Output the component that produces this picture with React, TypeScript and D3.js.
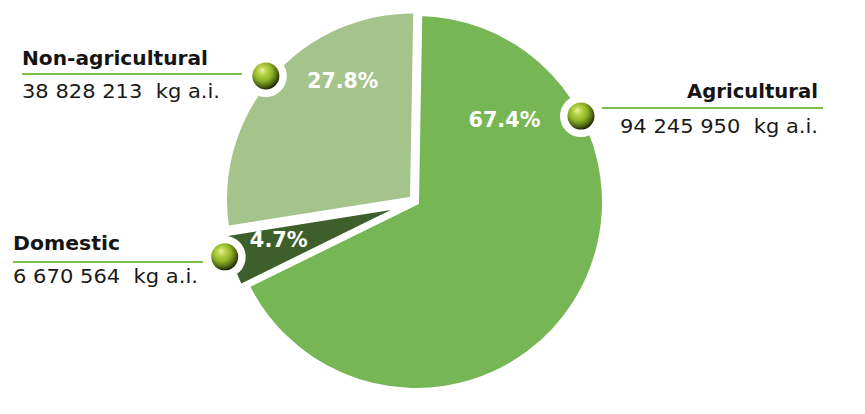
import * as d3 from "d3";

// Pesticide use by sector (kg active ingredient)
const sectors = ["Agricultural", "Domestic", "Non-agricultural"];
const amounts = [94245950, 6670564, 38828213];
const amountLabels = ["94 245 950", "6 670 564", "38 828 213"];
const percentLabels = ["67.4%", "4.7%", "27.8%"];
const unit = "kg a.i.";

const colors = ["#77b655", "#3e5f2b", "#a4c48b"];

// Layout
const width = 865;
const height = 414;
const cx = 416;
const cy = 202;
const radius = 189;
const explode = [0, 7, 4];
const rotation = (1 * Math.PI) / 180;
const fontFamily = "'DejaVu Sans', Lato, sans-serif";

// polar placements (degrees clockwise from 12 o'clock, distance from centre)
const pctPos = [
  { a: 47, r: 121, w: 72 },
  { a: 255, r: 142, w: 58 },
  { a: 329, r: 142, w: 71 },
];
const beadPos = [
  { a: 62.5, r: 186 },
  { a: 254, r: 199 },
  { a: 310, r: 196 },
];
// label blocks: anchor x, label baseline, rule y, value baseline, rule extent, text widths
const labelPos = [
  { x: 818, anchor: "end", name: 98, rule: 108, value: 133, x0: 602, x1: 823, wn: 131, wv: 198 },
  { x: 13, anchor: "start", name: 250, rule: 262, value: 283, x0: 13, x1: 203, wn: 107, wv: 185 },
  { x: 22, anchor: "start", name: 65, rule: 74, value: 98, x0: 22, x1: 242, wn: 186, wv: 198 },
];

const polar = (deg: number, r: number) => {
  const t = (deg * Math.PI) / 180;
  return [cx + Math.sin(t) * r, cy - Math.cos(t) * r];
};

export default function App() {
  const pie = d3
    .pie<number>()
    .sort(null)
    .startAngle(rotation)
    .endAngle(rotation + Math.PI * 2)
    .value((d) => d);
  const arcs = pie(amounts);
  const arc = d3.arc<d3.PieArcDatum<number>>().innerRadius(0).outerRadius(radius);

  return (
    <svg
      width={width}
      height={height}
      style={{ position: "absolute", left: 0, top: 0, background: "#fff" }}
    >
      <defs>
        <radialGradient id="bead" cx="0.42" cy="0.38" r="0.62" fx="0.36" fy="0.28">
          <stop offset="0" stopColor="#eef5b8" />
          <stop offset="0.18" stopColor="#c4dc58" />
          <stop offset="0.55" stopColor="#8fb425" />
          <stop offset="0.85" stopColor="#4d6212" />
          <stop offset="1" stopColor="#1e2408" />
        </radialGradient>
      </defs>

      <g transform={`translate(${cx},${cy})`}>
        {arcs.map((d, i) => {
          const mid = (d.startAngle + d.endAngle) / 2;
          const dx = Math.sin(mid) * explode[i];
          const dy = -Math.cos(mid) * explode[i];
          return (
            <path
              key={sectors[i]}
              d={arc(d) ?? ""}
              transform={`translate(${dx},${dy})`}
              fill={colors[i]}
              stroke="#fff"
              strokeWidth={6}
              strokeLinejoin="miter"
            />
          );
        })}
      </g>

      {percentLabels.map((p, i) => {
        const [x, y] = polar(pctPos[i].a, pctPos[i].r);
        return (
          <text
            key={p}
            x={x - pctPos[i].w / 2}
            y={y + 8}
            textLength={pctPos[i].w}
            lengthAdjust="spacingAndGlyphs"
            fill="#fff"
            fontFamily={fontFamily}
            fontWeight={700}
            fontSize={21}
          >
            {p}
          </text>
        );
      })}

      {sectors.map((s, i) => {
        const L = labelPos[i];
        const xn = L.anchor === "end" ? L.x - L.wn : L.x;
        const xv = L.anchor === "end" ? L.x - L.wv : L.x;
        return (
          <g key={s}>
            <line x1={L.x0} x2={L.x1} y1={L.rule} y2={L.rule} stroke="#7cc04a" strokeWidth={2} />
            <text
              x={xn}
              y={L.name}
              textLength={L.wn}
              lengthAdjust="spacingAndGlyphs"
              fill="#151515"
              fontFamily={fontFamily}
              fontWeight={700}
              fontSize={20}
            >
              {s}
            </text>
            <text
              x={xv}
              y={L.value}
              textLength={L.wv}
              lengthAdjust="spacingAndGlyphs"
              fill="#1a1a1a"
              fontFamily={fontFamily}
              fontSize={20}
              style={{ whiteSpace: "pre" }}
            >
              {`${amountLabels[i]}  ${unit}`}
            </text>
          </g>
        );
      })}

      {sectors.map((s, i) => {
        const [x, y] = polar(beadPos[i].a, beadPos[i].r);
        return (
          <g key={s + "-bead"}>
            <circle cx={x} cy={y} r={21} fill="#fff" />
            <circle cx={x} cy={y} r={13.5} fill="url(#bead)" />
          </g>
        );
      })}
    </svg>
  );
}
